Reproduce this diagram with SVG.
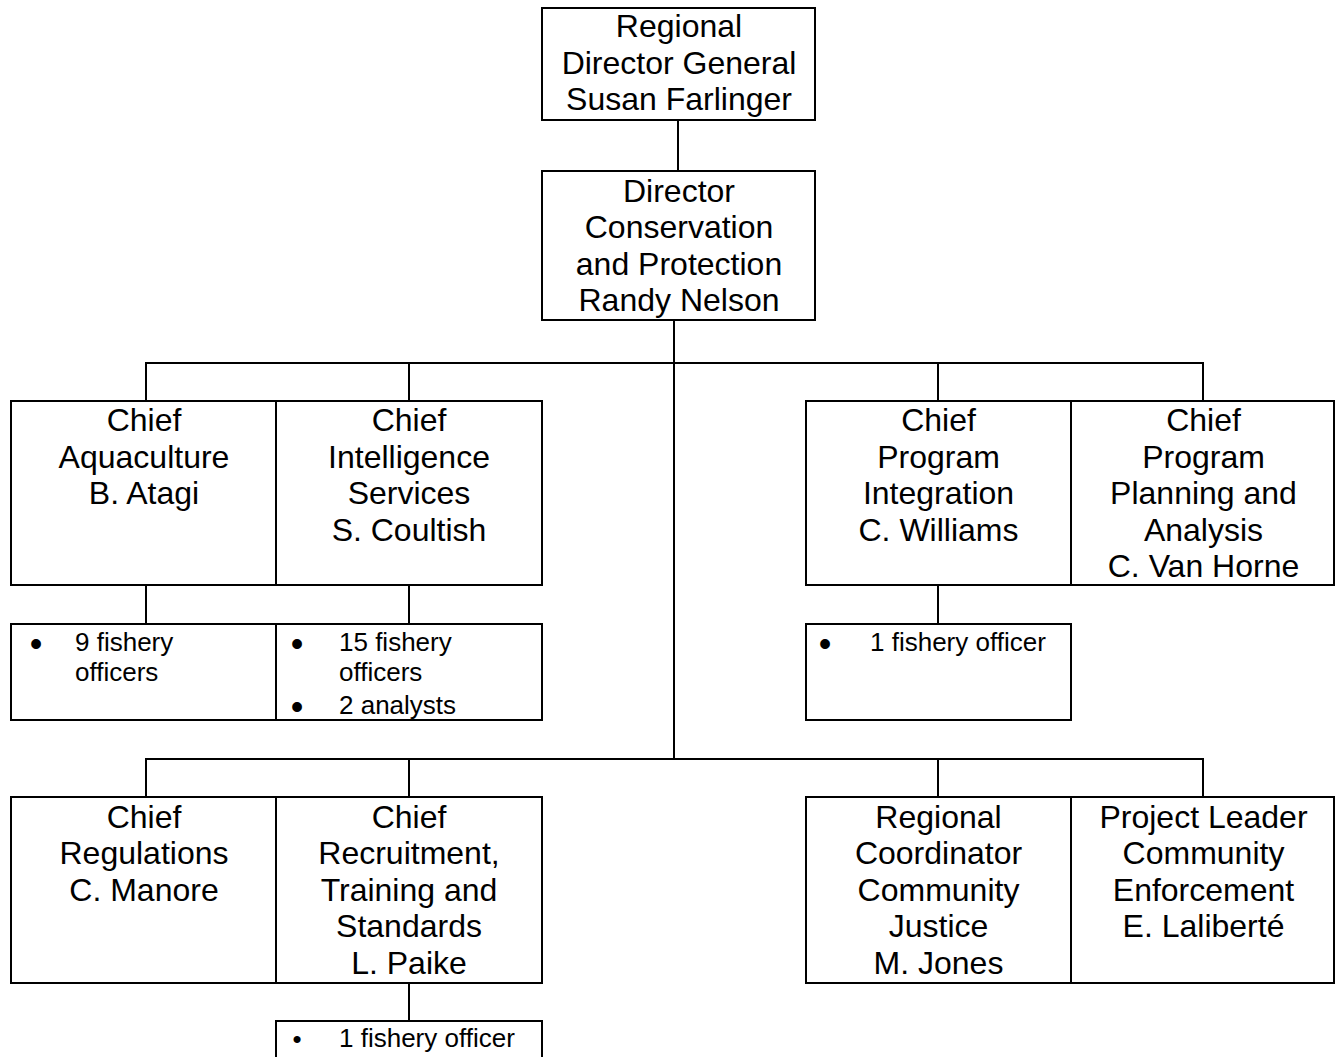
<svg xmlns="http://www.w3.org/2000/svg" width="1335" height="1057" viewBox="0 0 1335 1057">
<style>
.box{fill:#fff;stroke:#000;stroke-width:2}
.ln{stroke:#000;stroke-width:2;fill:none}
.t{font-family:"Liberation Sans",Arial,sans-serif;font-size:32px;fill:#000;text-anchor:middle}
.b{font-family:"Liberation Sans",Arial,sans-serif;font-size:26px;fill:#000}
.dot{text-anchor:middle;font-size:36px}
</style>
<rect width="1335" height="1057" fill="#fff"/>
<g id="connectors">
<path class="ln" d="M678 120V171"/>
<path class="ln" d="M674 320V759"/>
<path class="ln" d="M146 401V363H1203V401"/>
<path class="ln" d="M409 363V401"/>
<path class="ln" d="M938 363V401"/>
<path class="ln" d="M146 585V624"/>
<path class="ln" d="M409 585V624"/>
<path class="ln" d="M938 585V624"/>
<path class="ln" d="M146 797V759H1203V797"/>
<path class="ln" d="M409 759V797"/>
<path class="ln" d="M938 759V797"/>
<path class="ln" d="M409 983V1021"/>
</g>
<g id="rdg">
<rect class="box" x="542" y="8" width="273" height="112"/>
<text class="t"><tspan x="679" y="37">Regional</tspan><tspan x="679" y="73.5">Director General</tspan><tspan x="679" y="110">Susan Farlinger</tspan></text>
</g>
<g id="director">
<rect class="box" x="542" y="171" width="273" height="149"/>
<text class="t"><tspan x="679" y="201.5">Director</tspan><tspan x="679" y="238">Conservation</tspan><tspan x="679" y="274.5">and Protection</tspan><tspan x="679" y="311">Randy Nelson</tspan></text>
</g>
<g id="aquaculture">
<rect class="box" x="11" y="401" width="265" height="184"/>
<text class="t"><tspan x="144" y="431">Chief</tspan><tspan x="144" y="467.5">Aquaculture</tspan><tspan x="144" y="504">B. Atagi</tspan></text>
</g>
<g id="intelligence">
<rect class="box" x="276" y="401" width="266" height="184"/>
<text class="t"><tspan x="409" y="431">Chief</tspan><tspan x="409" y="467.5">Intelligence</tspan><tspan x="409" y="504">Services</tspan><tspan x="409" y="540.5">S. Coultish</tspan></text>
</g>
<g id="integration">
<rect class="box" x="806" y="401" width="265" height="184"/>
<text class="t"><tspan x="938.5" y="431">Chief</tspan><tspan x="938.5" y="467.5">Program</tspan><tspan x="938.5" y="504">Integration</tspan><tspan x="938.5" y="540.5">C. Williams</tspan></text>
</g>
<g id="planning">
<rect class="box" x="1071" y="401" width="263" height="184"/>
<text class="t"><tspan x="1203.5" y="431">Chief</tspan><tspan x="1203.5" y="467.5">Program</tspan><tspan x="1203.5" y="504">Planning and</tspan><tspan x="1203.5" y="540.5">Analysis</tspan><tspan x="1203.5" y="577">C. Van Horne</tspan></text>
</g>
<g id="aquaculture-staff">
<rect class="box" x="11" y="624" width="265" height="96"/>
<text class="b dot" x="36" y="656">•</text>
<text class="b"><tspan x="75" y="651">9 fishery</tspan><tspan x="75" y="681">officers</tspan></text>
</g>
<g id="intelligence-staff">
<rect class="box" x="276" y="624" width="266" height="96"/>
<text class="b dot" x="297" y="656">•</text>
<text class="b dot" x="297" y="719">•</text>
<text class="b"><tspan x="339" y="651">15 fishery</tspan><tspan x="339" y="681">officers</tspan><tspan x="339" y="714">2 analysts</tspan></text>
</g>
<g id="integration-staff">
<rect class="box" x="806" y="624" width="265" height="96"/>
<text class="b dot" x="825" y="656">•</text>
<text class="b" x="870" y="651">1 fishery officer</text>
</g>
<g id="regulations">
<rect class="box" x="11" y="797" width="265" height="186"/>
<text class="t"><tspan x="144" y="827.5">Chief</tspan><tspan x="144" y="864">Regulations</tspan><tspan x="144" y="900.5">C. Manore</tspan></text>
</g>
<g id="recruitment">
<rect class="box" x="276" y="797" width="266" height="186"/>
<text class="t"><tspan x="409" y="827.5">Chief</tspan><tspan x="409" y="864">Recruitment,</tspan><tspan x="409" y="900.5">Training and</tspan><tspan x="409" y="937">Standards</tspan><tspan x="409" y="973.5">L. Paike</tspan></text>
</g>
<g id="community-justice">
<rect class="box" x="806" y="797" width="265" height="186"/>
<text class="t"><tspan x="938.5" y="827.5">Regional</tspan><tspan x="938.5" y="864">Coordinator</tspan><tspan x="938.5" y="900.5">Community</tspan><tspan x="938.5" y="937">Justice</tspan><tspan x="938.5" y="973.5">M. Jones</tspan></text>
</g>
<g id="community-enforcement">
<rect class="box" x="1071" y="797" width="263" height="186"/>
<text class="t"><tspan x="1203.5" y="827.5">Project Leader</tspan><tspan x="1203.5" y="864">Community</tspan><tspan x="1203.5" y="900.5">Enforcement</tspan><tspan x="1203.5" y="937">E. Laliberté</tspan></text>
</g>
<g id="recruitment-staff">
<rect class="box" x="276" y="1021" width="266" height="45"/>
<text class="b" x="297" y="1048" text-anchor="middle" font-size="32">•</text>
<text class="b" x="339" y="1047">1 fishery officer</text>
</g>
</svg>
